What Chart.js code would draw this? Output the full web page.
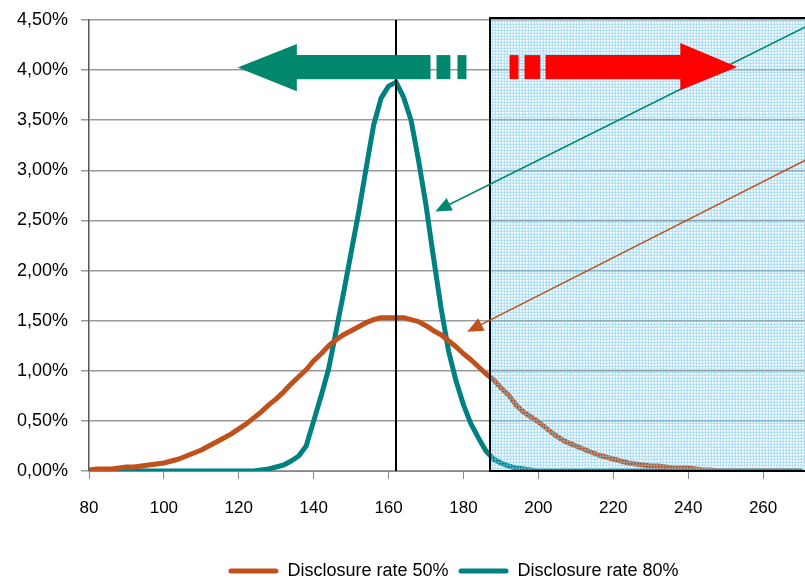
<!DOCTYPE html>
<html>
<head>
<meta charset="utf-8">
<script src="https://cdn.jsdelivr.net/npm/chart.js@4.4.1/dist/chart.umd.min.js"></script>
<style>
  html, body { margin: 0; padding: 0; background: #fff; }
  #wrap { width: 805px; height: 581px; }
</style>
</head>
<body>
<div id="wrap"><canvas id="c" width="805" height="581"></canvas></div>
<script>
// ---- data ----
const xValues = [80,82,84,86,88,90,92,94,96,98,100,102,104,106,108,110,112,114,116,118,
  120,122,124,126,128,130,132,134,136,138,140,142,144,146,148,150,152,154,156,158,
  160,162,164,166,168,170,172,174,176,178,180,182,184,186,188,190,192,194,196,198,
  200,202,204,206,208,210,212,214,216,218,220,222,224,226,228,230,232,234,236,238,
  240,242,244,246,248,250,252,254,256,258,260,262,264,266,268,270];

const rate50 = [0.01,0.02,0.02,0.02,0.03,0.04,0.04,0.05,0.06,0.07,
  0.08,0.10,0.12,0.15,0.18,0.21,0.25,0.29,0.33,0.37,
  0.42,0.47,0.53,0.59,0.66,0.72,0.79,0.87,0.94,1.01,
  1.10,1.17,1.25,1.31,1.36,1.40,1.44,1.48,1.51,1.53,
  1.53,1.53,1.53,1.51,1.49,1.45,1.40,1.36,1.30,1.24,
  1.17,1.11,1.04,0.97,0.91,0.83,0.76,0.66,0.59,0.54,
  0.49,0.43,0.37,0.32,0.28,0.25,0.22,0.19,0.16,0.14,
  0.12,0.10,0.08,0.07,0.06,0.05,0.05,0.04,0.03,0.03,
  0.03,0.02,0.01,0.01,0.00,0.00,0.00,0.00,0.00,0.00,0.00,0.00,0.00,0.00,0.00,0.00];

const rate80 = [0,0,0,0,0,0,0,0,0,0,0,0,0,0,0,0,0,0,0,0,0,0,
  0.00,0.01,0.02,0.04,0.06,0.10,0.15,0.25,0.50,0.75,
  1.02,1.40,1.78,2.18,2.58,3.02,3.45,3.72,3.84,3.88,
  3.73,3.50,3.10,2.65,2.13,1.63,1.20,0.90,0.66,0.47,
  0.33,0.20,0.12,0.08,0.05,0.03,0.02,0.01,
  0,0,0,0,0,0,0,0,0,0,0,0,0,0,0,0,0,0,0,0,0,0,0,0,0,0,0,0,0,0,0,0,0,0,0,0];

const seriesNames = ['Disclosure rate 50%', 'Disclosure rate 80%'];
const xTickValues = [80,100,120,140,160,180,200,220,240,260];
const yTickLabels = ['0,00%','0,50%','1,00%','1,50%','2,00%','2,50%','3,00%','3,50%','4,00%','4,50%'];

// ---- styles / annotation geometry (in data units) ----
const C50 = '#C0501C';
const C80 = '#008080';
const CARROW = '#00876E';
const FONT = '"Liberation Sans", Arial, sans-serif';

const meanLine = 162;
const shadeBox = { x0: 187.2, y0: 4.52, y1: 0 };
const greenPointer = { tip: [172.5, 2.59], end: [275, 4.50] };
const orangePointer = { tip: [181.0, 1.39], end: [275, 3.172] };
const leftArrow = { tip: [119.7, 4.025], headBase: 135.5, headTop: 4.26, headBot: 3.79,
  shaftTop: 4.15, shaftBot: 3.91, shaftEnd: 171.2, dashes: [[172.8,176.5],[178.4,180.8]] };
const rightArrow = { tip: [253.1, 4.03], headBase: 237.9, headTop: 4.27, headBot: 3.80,
  shaftTop: 4.15, shaftBot: 3.91, shaftStart: 201.9, dashes: [[192.3,194.7],[196.3,200.5]] };

function makePattern(ctx) {
  const pc = document.createElement('canvas');
  pc.width = 3; pc.height = 3;
  const p = pc.getContext('2d');
  p.fillStyle = 'rgba(115,202,240,0.55)';
  p.fillRect(0, 0, 3, 1);
  p.fillRect(0, 1, 1, 2);
  p.fillStyle = 'rgba(140,212,243,0.45)';
  p.fillRect(2, 2, 1, 1);
  return ctx.createPattern(pc, 'repeat');
}

function arrowHead(ctx, tx, ty, fx, fy, len, half, color) {
  const dx = tx - fx, dy = ty - fy;
  const d = Math.hypot(dx, dy);
  const ux = dx / d, uy = dy / d;
  const bx = tx - ux * len, by = ty - uy * len;
  ctx.beginPath();
  ctx.moveTo(tx, ty);
  ctx.lineTo(bx - uy * half, by + ux * half);
  ctx.lineTo(bx + uy * half, by - ux * half);
  ctx.closePath();
  ctx.fillStyle = color;
  ctx.fill();
}

const legendShift = {
  id: 'legendShift',
  afterLayout(chart) {
    const lg = chart.legend;
    if (!lg) return;
    const h = lg.bottom - lg.top;
    lg.left += 51; lg.right += 51;
    lg.top = 552; lg.bottom = 552 + h;
  }
};

const overlay = {
  id: 'overlay',
  afterDatasetsDraw(chart) {
    const { ctx, scales: { x, y } } = chart;
    const X = v => x.getPixelForValue(v), Y = v => y.getPixelForValue(v);
    ctx.save();
    // mean vertical line
    ctx.strokeStyle = '#000';
    ctx.lineWidth = 2;
    ctx.beginPath();
    ctx.moveTo(Math.round(X(meanLine)), chart.chartArea.top);
    ctx.lineTo(Math.round(X(meanLine)), chart.chartArea.bottom);
    ctx.stroke();

    // shaded box
    const bx = Math.round(X(shadeBox.x0)), by = Math.round(Y(shadeBox.y0)), bb = Math.round(Y(shadeBox.y1));
    ctx.fillStyle = makePattern(ctx);
    ctx.fillRect(bx, by, chart.width - bx + 10, bb - by);
    ctx.strokeStyle = '#000';
    ctx.lineWidth = 2;
    ctx.strokeRect(bx, by, chart.width - bx + 10, bb - by);

    // pointer lines
    [[greenPointer, CARROW], [orangePointer, '#C0501C']].forEach(([p, col]) => {
      const tx = X(p.tip[0]), ty = Y(p.tip[1]), ex = X(p.end[0]), ey = Y(p.end[1]);
      const dx = tx - ex, dy = ty - ey, d = Math.hypot(dx, dy);
      ctx.strokeStyle = col;
      ctx.lineWidth = 1.5;
      ctx.beginPath();
      ctx.moveTo(ex, ey);
      ctx.lineTo(tx - dx / d * 10, ty - dy / d * 10);
      ctx.stroke();
      arrowHead(ctx, tx, ty, ex, ey, 16, 7, col);
    });

    // big left (green) arrow
    const L = leftArrow;
    ctx.fillStyle = CARROW;
    ctx.beginPath();
    ctx.moveTo(X(L.tip[0]), Y(L.tip[1]));
    ctx.lineTo(X(L.headBase), Y(L.headTop));
    ctx.lineTo(X(L.headBase), Y(L.shaftTop));
    ctx.lineTo(X(L.shaftEnd), Y(L.shaftTop));
    ctx.lineTo(X(L.shaftEnd), Y(L.shaftBot));
    ctx.lineTo(X(L.headBase), Y(L.shaftBot));
    ctx.lineTo(X(L.headBase), Y(L.headBot));
    ctx.closePath();
    ctx.fill();
    L.dashes.forEach(([a, b]) => ctx.fillRect(X(a), Y(L.shaftTop), X(b) - X(a), Y(L.shaftBot) - Y(L.shaftTop)));

    // big right (red) arrow
    const R = rightArrow;
    ctx.fillStyle = '#FF0000';
    ctx.beginPath();
    ctx.moveTo(X(R.tip[0]), Y(R.tip[1]));
    ctx.lineTo(X(R.headBase), Y(R.headTop));
    ctx.lineTo(X(R.headBase), Y(R.shaftTop));
    ctx.lineTo(X(R.shaftStart), Y(R.shaftTop));
    ctx.lineTo(X(R.shaftStart), Y(R.shaftBot));
    ctx.lineTo(X(R.headBase), Y(R.shaftBot));
    ctx.lineTo(X(R.headBase), Y(R.headBot));
    ctx.closePath();
    ctx.fill();
    R.dashes.forEach(([a, b]) => ctx.fillRect(X(a), Y(R.shaftTop), X(b) - X(a), Y(R.shaftBot) - Y(R.shaftTop)));
    ctx.restore();
  }
};

const toPoints = arr => arr.map((v, i) => ({ x: xValues[i], y: v }));

new Chart(document.getElementById('c'), {
  type: 'line',
  data: {
    datasets: [
      { label: seriesNames[0], data: toPoints(rate50), borderColor: C50, backgroundColor: C50,
        borderWidth: 5, pointRadius: 0, tension: 0, borderJoinStyle: 'round', borderCapStyle: 'round' },
      { label: seriesNames[1], data: toPoints(rate80), borderColor: C80, backgroundColor: C80,
        borderWidth: 5, pointRadius: 0, tension: 0, borderJoinStyle: 'round', borderCapStyle: 'round' }
    ]
  },
  options: {
    responsive: false,
    animation: false,
    events: [],
    layout: { padding: { top: 20, right: 0, left: 0, bottom: 0 } },
    scales: {
      x: {
        type: 'linear', min: 80, max: 271.2,
        afterBuildTicks: s => { s.ticks = xTickValues.map(v => ({ value: v })); },
        afterFit: s => { s.height = 72; s.paddingLeft = 0; s.paddingRight = 0; },
        grid: { drawOnChartArea: false, drawTicks: true, tickLength: 8, color: '#888' },
        border: { color: '#888', width: 1 },
        ticks: { color: '#000', font: { family: FONT, size: 17 }, padding: 19, maxRotation: 0,
          callback: v => String(v) }
      },
      y: {
        min: 0, max: 4.5,
        afterBuildTicks: s => { s.ticks = yTickLabels.map((_, i) => ({ value: i * 0.5 })); },
        afterFit: s => { s.width = 89; s.paddingTop = 0; s.paddingBottom = 0; },
        grid: { color: '#9a9a9a', tickLength: 8, lineWidth: 1.5 },
        border: { color: '#555', width: 1.5 },
        ticks: { color: '#000', font: { family: FONT, size: 18 }, padding: 13,
          callback: (v, i) => yTickLabels[i] }
      }
    },
    plugins: {
      legend: {
        position: 'bottom',
        labels: {
          color: '#000', font: { family: FONT, size: 18 }, boxWidth: 50, boxHeight: 5, padding: 10,
          useBorderRadius: true, borderRadius: 2.5,
          generateLabels: chart => chart.data.datasets.map((d, i) => ({
            text: d.label, fillStyle: d.borderColor, strokeStyle: d.borderColor, lineWidth: 0,
            hidden: false, datasetIndex: i, borderRadius: 2.5, fontColor: '#000'
          }))
        }
      },
      tooltip: { enabled: false }
    }
  },
  plugins: [overlay, legendShift]
});
</script>
</body>
</html>
